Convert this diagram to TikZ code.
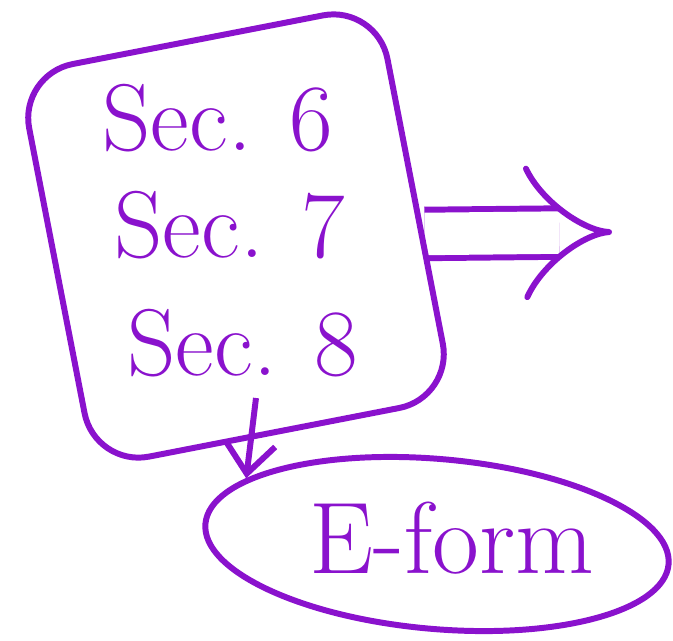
\documentclass[tikz,border=0pt]{standalone}
\usepackage{tikz}
\usetikzlibrary{positioning,shapes.geometric,arrows.meta,backgrounds}
\usepackage{xcolor}
\definecolor{ink}{RGB}{138,18,205}

\tikzset{
    pen/.style={draw=ink, line width=3.4pt},
    hand/.style={text=ink, font=\fontsize{54}{64}\selectfont}
}

\begin{document}
\begin{tikzpicture}[x=0.02cm, y=-0.02cm, node distance=2.15cm]
    \useasboundingbox (0,0) rectangle (673,640);
    \node (box) [pen, rounded corners=1.1cm, rotate=11, minimum width=7.3cm, minimum height=8cm] at (236,236) {};
    \node (sec6) [hand] at (218,118) {Sec. 6};
    \node (sec7) [hand, below of=sec6, xshift=0.24cm] {Sec. 7};
    \node (sec8) [hand, below of=sec7, xshift=0.26cm, yshift=-0.2cm] {Sec. 8};
    \node (eform) [pen, ellipse, rotate=-5, minimum width=9.3cm, minimum height=3.4cm] at (437,544) {};
    \node (eformtext) [hand, font=\fontsize{58}{68}\selectfont] at (452,538) {E-form};
    \coordinate (tip) at (612,232);
    \coordinate (drop) at (256,398);

    \begin{scope}[on background layer]
    \draw [pen, double, double distance=0.85cm, -{Implies}] (box) -- (tip);
    \end{scope}
    \draw [pen, -{Straight Barb[length=0.6cm, width=1cm]}] (drop) -- (eform.166);
\end{tikzpicture}
\end{document}
